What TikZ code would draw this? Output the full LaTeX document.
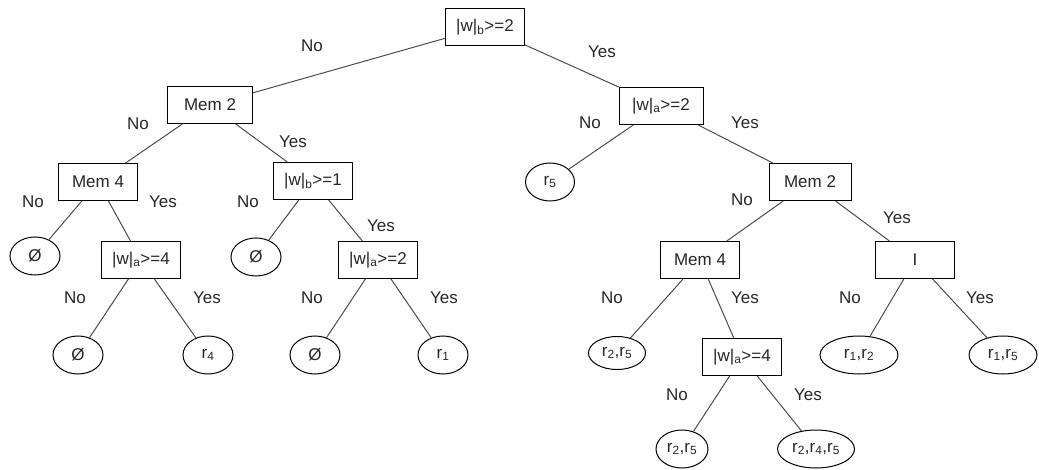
\documentclass[tikz,border=0pt]{standalone}
\usepackage{fontspec}
\setmainfont{Liberation Sans}
\usetikzlibrary{shapes.geometric}

\tikzset{
  test/.style={draw, rectangle, minimum width=#1, minimum height=37pt, inner sep=2pt},
  test/.default=79pt,
  leaf/.style={draw, ellipse, inner sep=1pt, minimum height=38pt, minimum width=#1},
  leaf/.default=50pt,
  branch/.style={draw=black!70},
}

\begin{document}
\begin{tikzpicture}[x=1pt, y=-1pt, font=\fontsize{17}{20}\selectfont, line width=1pt, text=black!85]
            \useasboundingbox (0,0) rectangle (1039,470);

            % tests
            \node[test] (root) at (485,27) {|w|\textsubscript{b}>=2};
            \node[test=85pt] (memL) at (210,105) {Mem 2};
            \node[test] (memfourL) at (98,182) {Mem 4};
            \node[test] (wbone) at (313,181) {|w|\textsubscript{b}>=1};
            \node[test] (wafourL) at (141,260) {|w|\textsubscript{a}>=4};
            \node[test] (watwoL) at (378,260) {|w|\textsubscript{a}>=2};
            \node[test=84pt] (watwoR) at (661,106) {|w|\textsubscript{a}>=2};
            \node[test=82pt] (memR) at (810,182) {Mem 2};
            \node[test] (memfourR) at (700,260) {Mem 4};
            \node[test] (I) at (915,260) {I};
            \node[test] (wafourR) at (742,357) {|w|\textsubscript{a}>=4};

            % leaves
            \node[leaf] (emptyA) at (35,256) {Ø};
            \node[leaf] (emptyB) at (256,257) {Ø};
            \node[leaf] (emptyC) at (78,355) {Ø};
            \node[leaf] (rfour) at (208,355) {r\textsubscript{4}};
            \node[leaf] (emptyD) at (315,355) {Ø};
            \node[leaf] (rone) at (443,355) {r\textsubscript{1}};
            \node[leaf=49pt] (rfive) at (550,182) {r\textsubscript{5}};
            \node[leaf=57pt, minimum height=33pt] (rtwofive) at (617,353) {r\textsubscript{2},r\textsubscript{5}};
            \node[leaf=78pt] (ronetwo) at (859,355) {r\textsubscript{1},r\textsubscript{2}};
            \node[leaf=68pt] (ronefive) at (1003,355) {r\textsubscript{1},r\textsubscript{5}};
            \node[leaf=52pt] (rtwofiveB) at (682,449) {r\textsubscript{2},r\textsubscript{5}};
            \node[leaf=77pt] (rtwofourfive) at (816,449) {r\textsubscript{2},r\textsubscript{4},r\textsubscript{5}};

            % branches
            \draw[branch] (root) -- (memL); \draw[branch] (root) -- (watwoR);
            \draw[branch] (memL) -- (memfourL); \draw[branch] (memL) -- (wbone);
            \draw[branch] (memfourL) -- (emptyA); \draw[branch] (memfourL) -- (wafourL);
            \draw[branch] (wafourL) -- (emptyC); \draw[branch] (wafourL) -- (rfour);
            \draw[branch] (wbone) -- (emptyB); \draw[branch] (wbone) -- (watwoL);
            \draw[branch] (watwoL) -- (emptyD); \draw[branch] (watwoL) -- (rone);
            \draw[branch] (watwoR) -- (rfive); \draw[branch] (watwoR) -- (memR);
            \draw[branch] (memR) -- (memfourR); \draw[branch] (memR) -- (I);
            \draw[branch] (memfourR) -- (rtwofive); \draw[branch] (memfourR) -- (wafourR);
            \draw[branch] (wafourR) -- (rtwofiveB); \draw[branch] (wafourR) -- (rtwofourfive);
            \draw[branch] (I) -- (ronetwo); \draw[branch] (I) -- (ronefive);

            % answers
            \node (noroot) at (312,46) {No}; \node (yesroot) at (602,52) {Yes};
            \node (nomemL) at (138,124) {No}; \node (yesmemL) at (293,142) {Yes};
            \node (nomemfourL) at (33,202) {No}; \node (yesmemfourL) at (163,202) {Yes};
            \node (nowbone) at (248,202) {No}; \node (yeswbone) at (381,226) {Yes};
            \node (nowafourL) at (75,298) {No}; \node (yeswafourL) at (207,298) {Yes};
            \node (nowatwoL) at (312,298) {No}; \node (yeswatwoL) at (444,298) {Yes};
            \node (nowatwoR) at (590,123) {No}; \node (yeswatwoR) at (745,123) {Yes};
            \node (nomemR) at (742,200) {No}; \node (yesmemR) at (897,218) {Yes};
            \node (nomemfourR) at (612,298) {No}; \node (yesmemfourR) at (745,298) {Yes};
            \node (noI) at (850,298) {No}; \node (yesI) at (980,298) {Yes};
            \node (nowafourR) at (677,395) {No}; \node (yeswafourR) at (808,395) {Yes};
        \end{tikzpicture}
\end{document}
